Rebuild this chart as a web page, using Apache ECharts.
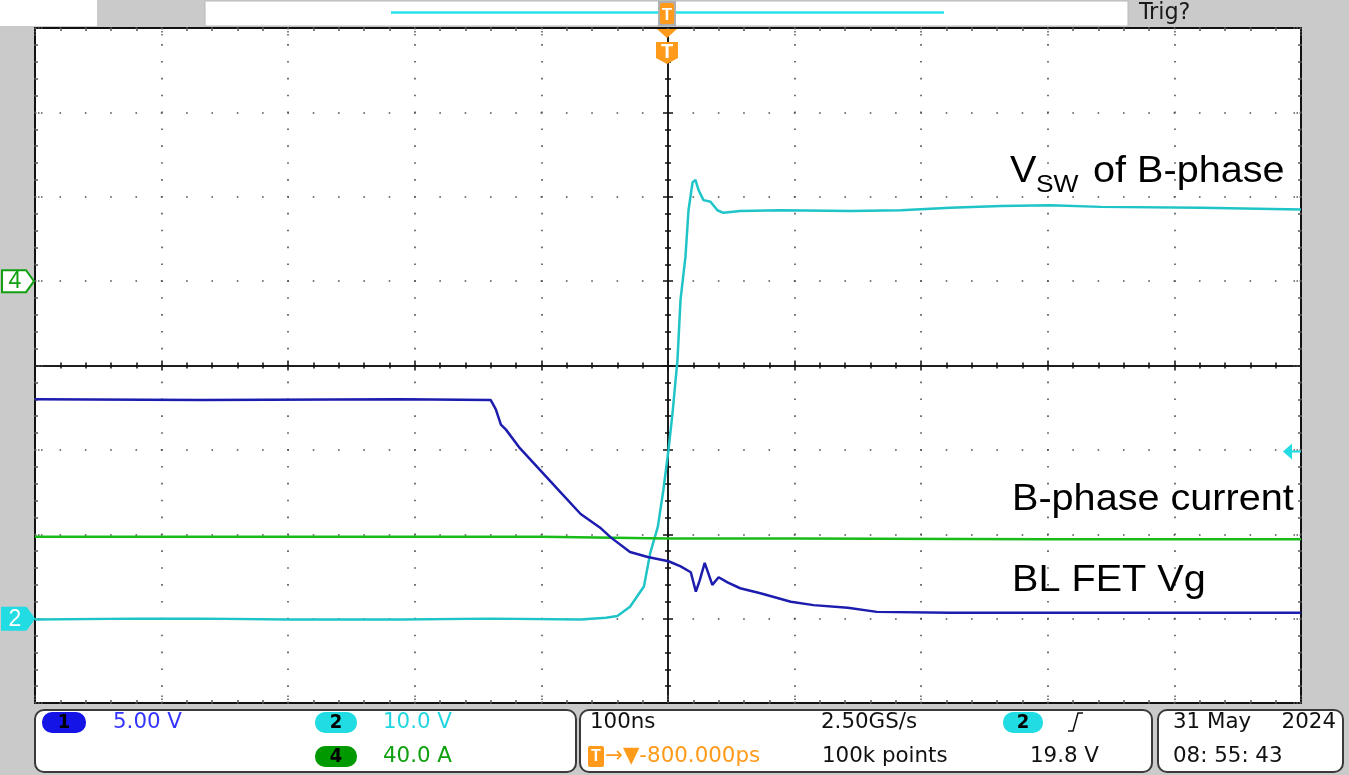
<!DOCTYPE html>
<html><head><meta charset="utf-8">
<script src="https://cdn.jsdelivr.net/npm/echarts@6/dist/echarts.min.js"></script>
<style>html,body{margin:0;padding:0;background:#cacaca;overflow:hidden}#c{width:1349px;height:775px}</style>
</head><body><div id="c"></div>
<script>
// Time in ns (100 ns/div, trigger at centre), values in screen divisions
const vswTime = [-500,-420,-369,-300,-211,-140,-69,-49,-40,-30,-19,-14,-8,-3.6,0.4,3.6,7.5,9.9,13.8,16.2,19.4,21.7,24.1,28,33.6,39,43.8,57,89,144,184,223,263,302,342,421,500];
const vswDiv  = [-3.01,-3.0,-3.0,-3.01,-3.01,-3.0,-3.01,-2.99,-2.97,-2.86,-2.62,-2.22,-1.91,-1.47,-1.0,-0.56,0.07,0.78,1.29,1.84,2.17,2.20,2.08,1.96,1.94,1.84,1.81,1.83,1.84,1.83,1.84,1.87,1.89,1.90,1.88,1.87,1.85];
const vgTime  = [-500,-369,-211,-140,-136,-132,-128,-117,-101,-85,-69,-53,-45,-30,-16,0.4,10,18,22,25,29,35,40,47,57,73,97,115,142,165,223,342,500];
const vgDiv   = [-0.40,-0.41,-0.40,-0.41,-0.52,-0.70,-0.76,-0.98,-1.24,-1.50,-1.76,-1.93,-2.04,-2.21,-2.27,-2.32,-2.38,-2.45,-2.68,-2.55,-2.34,-2.60,-2.51,-2.57,-2.64,-2.70,-2.80,-2.84,-2.87,-2.92,-2.93,-2.93,-2.93];
const curTime = [-500,-300,-100,0,100,300,500];
const curDiv  = [-2.03,-2.03,-2.03,-2.05,-2.05,-2.06,-2.06];
const xTicks = {min:-500, max:500, interval:100};
const yTicks = {min:-4, max:4, interval:1};
const ch4OffsetDiv = 1.0, ch2OffsetDiv = -3.0, trigLevelDiv = -1.02, trigTimeNs = -0.8;
const labels = {vsw:'V', vswSub:'SW', vswRest:'of B-phase', cur:'B-phase current', vg:'BL FET Vg'};

const pair = (t, v) => t.map((x, i) => [x, v[i]]);
const chart = echarts.init(document.getElementById('c'), null, {renderer:'canvas'});
const dk = '#111';
function xAx(pos, onZero, idx, inside, split){
  return Object.assign({type:'value', position:pos}, xTicks, {
    axisLine:{show:onZero, onZero:onZero, onZeroAxisIndex:idx, lineStyle:{color:dk,width:1.5}},
    axisTick:{show:true, inside:inside, length:onZero?5:8, lineStyle:{color:onZero?dk:'#555',width:1.5, type:onZero?'solid':[1.5,1.5]}},
    minorTick:{show:true, splitNumber:5, length:3, lineStyle:{color:onZero?dk:'#555',width:1.5}},
    axisLabel:{show:false},
    splitLine:{show:split, lineStyle:{color:'#505050', width:1.6, type:[1.6,15.275], dashOffset:0.8}},
    minorSplitLine:{show:false}
  });
}
function yAx(pos, onZero, idx, inside, split){
  return Object.assign({type:'value', position:pos}, yTicks, {
    axisLine:{show:onZero, onZero:onZero, onZeroAxisIndex:idx, lineStyle:{color:dk,width:1.5}},
    axisTick:{show:true, inside:inside, length:onZero?5:8, lineStyle:{color:onZero?dk:'#555',width:1.5, type:onZero?'solid':[1.5,1.5]}},
    minorTick:{show:true, splitNumber:5, length:3, lineStyle:{color:onZero?dk:'#555',width:1.5}},
    axisLabel:{show:false},
    splitLine:{show:split, lineStyle:{color:'#505050', width:1.6, type:[1.6,23.72], dashOffset:0.8}},
    minorSplitLine:{show:false}
  });
}
chart.setOption({
  animation:false,
  backgroundColor:'#cacaca',
  grid:{left:35, top:28, width:1266, height:675, show:true, backgroundColor:'#ffffff', borderColor:'#111', borderWidth:2, z:0},
  xAxis:[xAx('bottom',true,0,false,true), xAx('top',true,1,false,false), xAx('bottom',false,0,true,false), xAx('top',false,0,true,false)],
  yAxis:[yAx('left',true,0,false,true), yAx('right',true,1,false,false), yAx('left',false,0,true,false), yAx('right',false,0,true,false)],
  series:[
    {type:'line', name:'Ch2', data:pair(vswTime,vswDiv), showSymbol:false, lineStyle:{color:'#1fc4c8', width:2.5}, z:3},
    {type:'line', name:'Ch4', data:pair(curTime,curDiv), showSymbol:false, lineStyle:{color:'#18bb18', width:2.5}, z:4},
    {type:'line', name:'Ch1', data:pair(vgTime,vgDiv), showSymbol:false, lineStyle:{color:'#1c1cae', width:2.5}, z:5}
  ]
});

const px = (t, v) => chart.convertToPixel({xAxisIndex:0, yAxisIndex:0}, [t, v]);
const yCh4 = px(0, ch4OffsetDiv)[1];
const yCh2 = px(0, ch2OffsetDiv)[1];
const yTrig = px(0, trigLevelDiv)[1];
const xTrig = px(trigTimeNs, 0)[0];
const xR = px(500, 0)[0];
const annFont = '"Liberation Sans", Arial, sans-serif';
const scopeFont = '"DejaVu Sans Condensed", "Liberation Sans Narrow", "DejaVu Sans", sans-serif';
const txt = (x, y, text, size, color, opt) => ({type:'text', x:x, y:y, z:50, scaleX:1.08,
  style:Object.assign({text:text, font:size+'px '+scopeFont, fill:color, verticalAlign:'middle', align:'left'}, (opt||{}))});
const ann = (x, y, text, size) => ({type:'text', x:x, y:y, scaleX:1.1, z:50,
  style:{text:text, font:size+'px '+annFont, fill:'#000', verticalAlign:'middle', align:'left'}});
const marker = (y, fill, stroke, label, lblColor) => ({type:'group', children:[
  {type:'polygon', z:60, shape:{points:[[2,y-11],[26,y-11],[34,y],[26,y+11],[2,y+11]]}, style:{fill:fill, stroke:stroke, lineWidth:2}},
  {type:'text', z:61, x:15, y:y+1, style:{text:label, font:'23px '+annFont, fill:lblColor, align:'center', verticalAlign:'middle'}}
]});
const box = (x, y, w, h) => ({type:'rect', z:40, shape:{x:x, y:y, width:w, height:h, r:9}, style:{fill:'#fff', stroke:'#3a3a3a', lineWidth:2}});
const pill = (x, y, w, fill, label) => ({type:'group', children:[
  {type:'rect', z:45, shape:{x:x, y:y-10, width:w, height:21, r:10}, style:{fill:fill}},
  {type:'text', z:46, x:x+w/2, y:y+1, style:{text:label, font:'bold 20px '+scopeFont, fill:'#000', align:'center', verticalAlign:'middle'}}
]});
const r1 = 722, r2 = 756;
chart.setOption({graphic:[
  {type:'rect', z:30, shape:{x:0, y:0, width:97, height:26}, style:{fill:'#fff'}},
  {type:'rect', z:30, shape:{x:205, y:1, width:923, height:25}, style:{fill:'#fff', stroke:'#b8b8b8', lineWidth:1}},
  {type:'line', z:31, shape:{x1:391, y1:12.5, x2:944, y2:12.5}, style:{stroke:'#28e2ea', lineWidth:2.5}},
  txt(1139, 13, 'Trig?', 23, '#1a1a1a'),
  // trigger position markers
  {type:'rect', z:32, shape:{x:xTrig-9, y:1, width:18, height:25}, style:{fill:'#b0b0b0'}},
  {type:'rect', z:33, shape:{x:xTrig-7, y:3, width:14, height:21, r:2}, style:{fill:'#ff9a1a'}},
  {type:'text', z:34, x:xTrig, y:15, style:{text:'T', font:'bold 17px '+annFont, fill:'#fff', align:'center', verticalAlign:'middle'}},
  {type:'polygon', z:34, shape:{points:[[xTrig-10,29],[xTrig+10,29],[xTrig,38]]}, style:{fill:'#ff9a1a'}},
  {type:'polygon', z:34, shape:{points:[[xTrig-11,42],[xTrig+11,42],[xTrig+11,58],[xTrig,64],[xTrig-11,58]]}, style:{fill:'#ff9a1a'}},
  {type:'text', z:35, x:xTrig, y:52, style:{text:'T', font:'bold 20px '+annFont, fill:'#fff', align:'center', verticalAlign:'middle'}},
  // channel markers
  marker(yCh4, '#fff', '#10a010', '4', '#10a010'),
  marker(yCh2, '#22dce4', '#22dce4', '2', '#fff'),
  {type:'polygon', z:60, shape:{points:[[xR-18,yTrig],[xR-9,yTrig-8],[xR-9,yTrig+8]]}, style:{fill:'#22dce4'}},
  {type:'line', z:60, shape:{x1:xR-10, y1:yTrig, x2:xR, y2:yTrig}, style:{stroke:'#22dce4', lineWidth:2}},
  // annotations
  ann(1010, 172, labels.vsw, 36),
  {type:'text', x:1036, y:185, scaleX:1.1, z:50, style:{text:labels.vswSub, font:'24px '+annFont, fill:'#000', verticalAlign:'middle'}},
  ann(1093, 172, labels.vswRest, 36),
  ann(1012, 500, labels.cur, 36),
  ann(1012, 581, labels.vg, 36),
  // bottom readout boxes
  box(35, 710, 541, 62), box(580, 710, 572, 62), box(1158, 710, 185, 62),
  pill(42, r1, 44, '#1414e6', '1'), pill(315, r1, 42, '#22dce4', '2'), pill(315, r2, 42, '#009a00', '4'),
  txt(113, r1, '5.00 V', 22, '#3434ff'), txt(383, r1, '10.0 V', 22, '#22d6e0'), txt(383, r2, '40.0 A', 22, '#10a010'),
  txt(590, r1, '100ns', 22, '#111'), txt(821, r1, '2.50GS/s', 22, '#111'),
  pill(1003, r1, 40, '#22dce4', '2'),
  {type:'polyline', z:45, shape:{points:[[1068,731],[1073,731],[1078,713],[1083,713]]}, style:{stroke:'#111', lineWidth:1.5, fill:null}},
  {type:'rect', z:45, shape:{x:588, y:r2-10, width:16, height:21, r:2}, style:{fill:'#ff9a1a'}},
  {type:'text', z:46, x:596, y:r2+1, style:{text:'T', font:'bold 16px '+annFont, fill:'#fff', align:'center', verticalAlign:'middle'}},
  txt(605, r2, '\u2192\u25BC-800.000ps', 22, '#ff9a1a'),
  txt(822, r2, '100k points', 22, '#111'), txt(1030, r2, '19.8 V', 22, '#111'),
  txt(1173, r1, '31 May', 22, '#111'), txt(1336, r1, '2024', 22, '#111', {align:'right'}),
  txt(1173, r2, '08: 55: 43', 22, '#111')
]});
</script></body></html>
